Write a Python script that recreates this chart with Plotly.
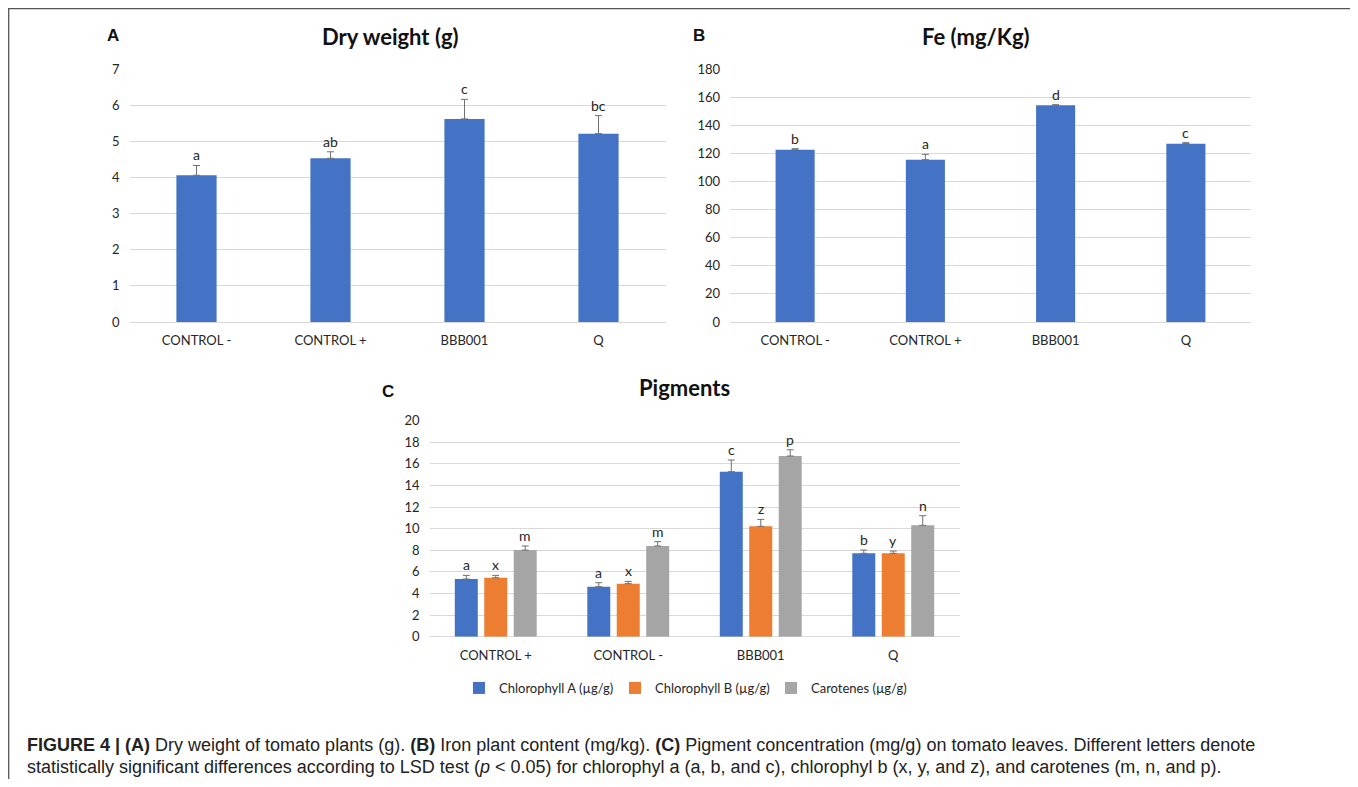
import plotly.graph_objects as go

# page is drawn with an 8px body margin, so the figure starts at (8, 8)
OFF = 8
W, H = 1350, 771

# ---------------- data ----------------
cats_ab = ["CONTROL -", "CONTROL +", "BBB001", "Q"]
dry_weight = [4.06, 4.53, 5.62, 5.21]
dry_weight_err = [0.27, 0.18, 0.54, 0.50]
dry_letters = ["a", "ab", "c", "bc"]

fe = [122.6, 115.5, 154.2, 126.9]
fe_err = [0.7, 3.8, 0.4, 0.7]
fe_letters = ["b", "a", "d", "c"]

cats_c = ["CONTROL +", "CONTROL -", "BBB001", "Q"]
chl_a = [5.34, 4.63, 15.28, 7.72]
chl_a_err = [0.34, 0.37, 1.08, 0.30]
chl_a_letters = ["a", "a", "c", "b"]
chl_b = [5.46, 4.91, 10.22, 7.72]
chl_b_err = [0.22, 0.21, 0.64, 0.21]
chl_b_letters = ["x", "x", "z", "y"]
carotenes = [8.02, 8.40, 16.73, 10.31]
carotenes_err = [0.38, 0.40, 0.58, 0.89]
carotenes_letters = ["m", "m", "p", "n"]

yticks_a = [0, 1, 2, 3, 4, 5, 6, 7]
yticks_b = [0, 20, 40, 60, 80, 100, 120, 140, 160, 180]
yticks_c = [0, 2, 4, 6, 8, 10, 12, 14, 16, 18, 20]

# ---------------- style ----------------
BLUE, ORANGE, GRAY = "#4472C4", "#ED7D31", "#A5A5A5"
ERR_COLOR = "#707070"
GRID = "#D9D9D9"
TXT = "#262626"
FONT = "Lato"


def px_x(p):
    return (p - OFF) / W


def px_y(p):
    return 1 - (p - OFF) / H


def err(vals):
    return dict(type="data", symmetric=False, array=vals, arrayminus=[0] * len(vals),
                color=ERR_COLOR, thickness=1, width=3.5)


fig = go.Figure()

# Panel A
fig.add_trace(go.Bar(x=cats_ab, y=dry_weight, error_y=err(dry_weight_err), marker_color=BLUE,
                     marker_line_width=0, width=0.30, xaxis="x", yaxis="y", showlegend=False))
# Panel B
fig.add_trace(go.Bar(x=cats_ab, y=fe, error_y=err(fe_err), marker_color=BLUE,
                     marker_line_width=0, width=0.30, xaxis="x2", yaxis="y2", showlegend=False))
# Panel C
for name, vals, errs, col in [
    ("Chlorophyll A (µg/g)", chl_a, chl_a_err, BLUE),
    ("Chlorophyll B (µg/g)", chl_b, chl_b_err, ORANGE),
    ("Carotenes (µg/g)", carotenes, carotenes_err, GRAY),
]:
    fig.add_trace(go.Bar(x=cats_c, y=vals, error_y=err(errs), marker_color=col, name=name,
                         marker_line_width=0, xaxis="x3", yaxis="y3"))

annotations = []


def letters(xref, yref, cats, vals, errs, labs, xshift=0):
    for c, v, e, l in zip(cats, vals, errs, labs):
        annotations.append(dict(x=c, y=v + e, xref=xref, yref=yref, text=l, showarrow=False,
                                yanchor="bottom", yshift=0, xshift=xshift,
                                font=dict(family=FONT, size=14, color=TXT)))


letters("x", "y", cats_ab, dry_weight, dry_weight_err, dry_letters)
letters("x2", "y2", cats_ab, fe, fe_err, fe_letters)
step = 29.5
letters("x3", "y3", cats_c, chl_a, chl_a_err, chl_a_letters, -step)
letters("x3", "y3", cats_c, chl_b, chl_b_err, chl_b_letters, 0)
letters("x3", "y3", cats_c, carotenes, carotenes_err, carotenes_letters, step)

# titles & panel letters
for txt, x, y, size, fam in [
    ("<b>Dry weight (g)</b>", 390, 37, 22, FONT),
    ("<b>Fe (mg/Kg)</b>", 976, 37, 22, FONT),
    ("<b>Pigments</b>", 684, 387, 22, FONT),
    ("<b>A</b>", 113, 36, 17, "Liberation Sans"),
    ("<b>B</b>", 699, 36, 17, "Liberation Sans"),
    ("<b>C</b>", 388, 391, 17, "Liberation Sans"),
]:
    annotations.append(dict(x=px_x(x), y=px_y(y), xref="paper", yref="paper", text=txt,
                            showarrow=False, xanchor="center", yanchor="middle",
                            font=dict(family=fam, size=size, color="#111")))

cap1 = ("<b>FIGURE 4 | (A)</b> Dry weight of tomato plants (g). <b>(B)</b> Iron plant content (mg/kg). "
        "<b>(C)</b> Pigment concentration (mg/g) on tomato leaves. Different letters denote")
cap2 = ("statistically significant differences according to LSD test (<i>p</i> &lt; 0.05) for chlorophyl a "
        "(a, b, and c), chlorophyl b (x, y, and z), and carotenes (m, n, and p).")
for txt, y in [(cap1, 745), (cap2, 767)]:
    annotations.append(dict(x=px_x(25), y=px_y(y), xref="paper", yref="paper", text=txt,
                            showarrow=False, xanchor="left", yanchor="middle",
                            font=dict(family="Liberation Sans", size=18, color="#222")))


def xax(d0, d1, anchor):
    return dict(domain=[px_x(d0), px_x(d1)], anchor=anchor, type="category",
                showgrid=False, showline=False, ticks="", fixedrange=True,
                ticklabelstandoff=9,
                tickfont=dict(family=FONT, size=13, color=TXT))


def yax(top, bottom, rng, ticks, anchor):
    return dict(domain=[px_y(bottom), px_y(top)], anchor=anchor, range=rng, tickvals=ticks,
                showgrid=True, gridcolor=GRID, gridwidth=1, zeroline=True, zerolinecolor=GRID,
                zerolinewidth=1, showline=False, ticks="", fixedrange=True,
                ticklabelstandoff=9,
                tickfont=dict(family=FONT, size=13, color=TXT))


BORDER = dict(color="#555", width=1.3)
shapes = [
    dict(type="line", xref="paper", yref="paper", x0=0.7 / W, x1=0.7 / W, y0=0, y1=1, line=BORDER),
    dict(type="line", xref="paper", yref="paper", x0=0, x1=px_x(1355), y0=1 - 0.7 / H, y1=1 - 0.7 / H,
         line=BORDER),
    dict(type="line", xref="paper", yref="paper", x0=px_x(1355), x1=px_x(1355), y0=0, y1=1, line=BORDER),
]

fig.update_layout(
    width=W, height=H,
    margin=dict(l=0, r=0, t=0, b=0, autoexpand=False),
    paper_bgcolor="white", plot_bgcolor="white",
    barmode="group", bargap=0.333, bargroupgap=0.22,
    xaxis=xax(129.5, 665.5, "y"),
    yaxis=yax(69, 322, [0, 7], yticks_a, "x"),
    xaxis2=xax(730, 1251, "y2"),
    yaxis2=yax(69, 322, [0, 180], yticks_b, "x2"),
    xaxis3=xax(429.5, 959.5, "y3"),
    yaxis3=yax(420.7, 636.7, [0, 20], yticks_c, "x3"),
    legend=dict(orientation="h", x=px_x(459), y=px_y(688), xanchor="left", yanchor="middle",
                font=dict(family=FONT, size=13, color=TXT), itemwidth=30, traceorder="normal",
                entrywidth=111, entrywidthmode="pixels", bgcolor="rgba(0,0,0,0)"),
    annotations=annotations,
    shapes=shapes,
)

fig.write_html("out.html")
